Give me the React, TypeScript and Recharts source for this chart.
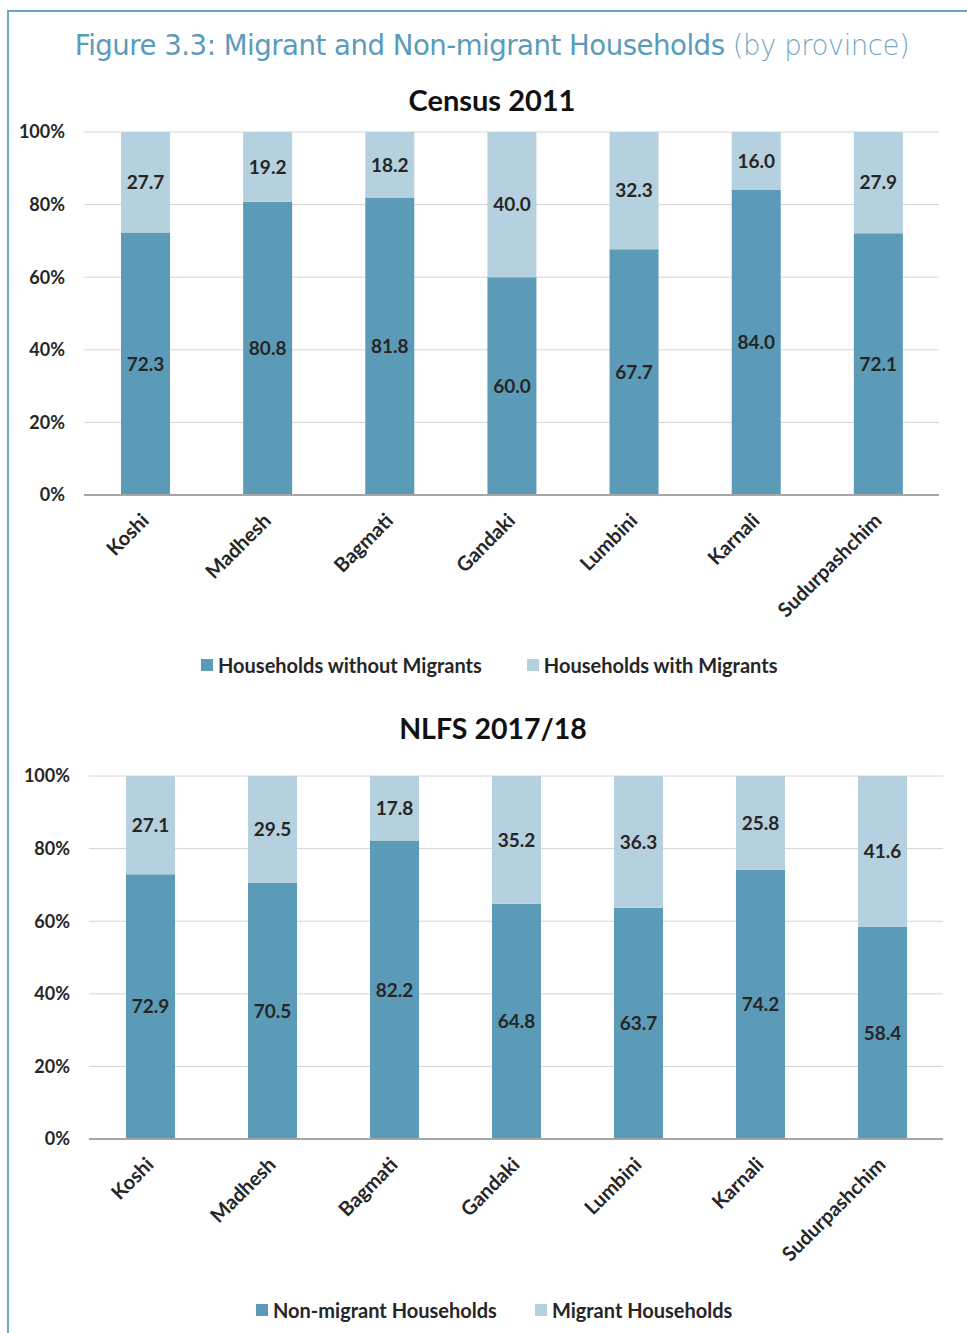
import { BarChart, Bar, XAxis, YAxis, CartesianGrid, LabelList } from "recharts";

const provinces = ["Koshi", "Madhesh", "Bagmati", "Gandaki", "Lumbini", "Karnali", "Sudurpashchim"];
const censusWithout = [72.3, 80.8, 81.8, 60.0, 67.7, 84.0, 72.1];
const censusWith = [27.7, 19.2, 18.2, 40.0, 32.3, 16.0, 27.9];
const nlfsNonMigrant = [72.9, 70.5, 82.2, 64.8, 63.7, 74.2, 58.4];
const nlfsMigrant = [27.1, 29.5, 17.8, 35.2, 36.3, 25.8, 41.6];
const yTicks = [0, 20, 40, 60, 80, 100];

const censusSeries = ["Households without Migrants", "Households with Migrants"];
const nlfsSeries = ["Non-migrant Households", "Migrant Households"];

const DARK = "#5b9bb8";
const LIGHT = "#b5d0de";
const TEXT = "#262626";
const FONT = "Lato, 'Open Sans', sans-serif";

const censusData = provinces.map((p, i) => ({ name: p, a: censusWithout[i], b: censusWith[i] }));
const nlfsData = provinces.map((p, i) => ({ name: p, a: nlfsNonMigrant[i], b: nlfsMigrant[i] }));

function RotTick(props: any) {
  const { x, y, payload } = props;
  return (
    <g transform={`translate(${x},${y + 14})`}>
      <text
        x={0}
        y={0}
        dy="0.35em"
        textAnchor="end"
        transform="rotate(-45)"
        fill={TEXT}
        fontSize={20}
        fontWeight={700}
        fontFamily={FONT}
      >
        {payload.value}
      </text>
    </g>
  );
}

function fmt(v: any) {
  return Number(v).toFixed(1);
}

function StackChart({ data, yWidth, right }: { data: any[]; yWidth: number; right: number }) {
  return (
    <BarChart
      width={967}
      height={520}
      data={data}
      margin={{ top: 12, right: right, bottom: 0, left: 0 }}
      barSize={49}
    >
      <CartesianGrid vertical={false} stroke="#d4d4d4" strokeWidth={1} />
      <XAxis
        dataKey="name"
        height={145}
        interval={0}
        tickLine={false}
        axisLine={{ stroke: "#a6a6a6", strokeWidth: 2 }}
        tick={<RotTick />}
      />
      <YAxis
        width={yWidth}
        domain={[0, 100]}
        ticks={yTicks}
        tickFormatter={(v) => `${v}%`}
        axisLine={false}
        tickLine={false}
        tickMargin={13}
        tick={{ fill: TEXT, fontSize: 18, fontWeight: 700, fontFamily: FONT }}
      />
      <Bar dataKey="a" stackId="s" fill={DARK} isAnimationActive={false}>
        <LabelList dataKey="a" position="center" formatter={fmt} fill={TEXT} fontSize={19} fontWeight={700} fontFamily={FONT} />
      </Bar>
      <Bar dataKey="b" stackId="s" fill={LIGHT} isAnimationActive={false}>
        <LabelList dataKey="b" position="center" formatter={fmt} fill={TEXT} fontSize={19} fontWeight={700} fontFamily={FONT} />
      </Bar>
    </BarChart>
  );
}

function LegendRow({ names, top, gap, left }: { names: string[]; top: number; gap: number; left: number }) {
  const colors = [DARK, LIGHT];
  return (
    <div
      style={{
        position: "absolute",
        top,
        left,
        display: "flex",
        gap,
        fontFamily: FONT,
        fontWeight: 700,
        fontSize: 20,
        color: TEXT,
        lineHeight: "24px",
        whiteSpace: "nowrap",
      }}
    >
      {names.map((n, i) => (
        <div key={n} style={{ display: "flex", alignItems: "center" }}>
          <span style={{ display: "inline-block", width: 12, height: 12, background: colors[i], marginRight: 5 }} />
          {n}
        </div>
      ))}
    </div>
  );
}

export default function App() {
  return (
    <div style={{ position: "absolute", left: 0, top: 0, width: 967, height: 1333, background: "#fff", overflow: "hidden" }}>
      <div
        style={{
          position: "absolute",
          left: 7,
          top: 10,
          width: 980,
          height: 1340,
          borderLeft: "2px solid #6aa7c3",
          borderTop: "2px solid #6aa7c3",
        }}
      />
      <div
        style={{
          position: "absolute",
          top: 28,
          left: 0,
          width: 984,
          textAlign: "center",
          fontFamily: "'DejaVu Sans', sans-serif",
          fontSize: 27.6,
          color: "#5a9bbb",
          lineHeight: "36px",
          letterSpacing: -0.5,
        }}
      >
        Figure 3.3: Migrant and Non-migrant Households{" "}
        <span style={{ fontWeight: 300, color: "#72aac6" }}>(by province)</span>
      </div>
      <div
        style={{
          position: "absolute",
          top: 83,
          left: 0,
          width: 984,
          textAlign: "center",
          fontFamily: FONT,
          fontWeight: 700,
          fontSize: 29,
          color: "#111",
          lineHeight: "34px",
        }}
      >
        Census 2011
      </div>
      <div style={{ position: "absolute", top: 120, left: 0 }}>
        <StackChart data={censusData} yWidth={84} right={28} />
      </div>
      <LegendRow names={censusSeries} top={653} gap={45} left={201} />
      <div
        style={{
          position: "absolute",
          top: 711,
          left: 0,
          width: 986,
          textAlign: "center",
          fontFamily: FONT,
          fontWeight: 700,
          fontSize: 28.5,
          color: "#111",
          lineHeight: "34px",
        }}
      >
        NLFS 2017/18
      </div>
      <div style={{ position: "absolute", top: 764, left: 0 }}>
        <StackChart data={nlfsData} yWidth={89} right={24} />
      </div>
      <LegendRow names={nlfsSeries} top={1298} gap={38} left={256} />
    </div>
  );
}
